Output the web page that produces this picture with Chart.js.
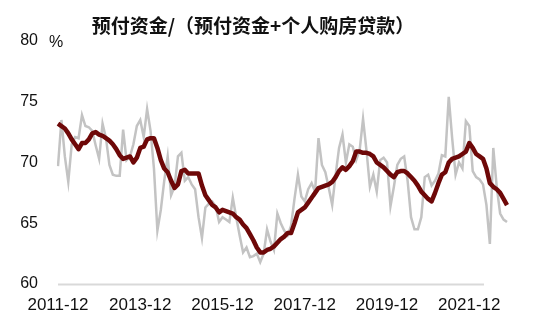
<!DOCTYPE html>
<html>
<head>
<meta charset="utf-8">
<script src="https://cdn.jsdelivr.net/npm/chart.js@4/dist/chart.umd.min.js"></script>
<style>
html,body{margin:0;padding:0;background:#fff;}
#wrap{width:550px;height:332px;position:relative;}
</style>
</head>
<body>
<div id="wrap"><canvas id="c" width="550" height="332"></canvas></div>
<script>
const titleText = '预付资金/（预付资金+个人购房贷款）';
const unitText = '%';
const startYear = 2011, startMonth = 12;
const tickLabels = ['2011-12','2013-12','2015-12','2017-12','2019-12','2021-12'];
const yTicks = [60, 65, 70, 75, 80];

const monthlyRatio = [
69.7,73.5,70.5,68.4,71.5,72.1,72.0,73.9,73.0,72.9,72.6,71.4,
70.3,73.2,72.0,69.8,69.0,68.9,68.9,72.7,70.2,70.5,71.5,73.0,
73.5,72.1,74.4,72.6,69.5,64.4,66.1,68.5,70.5,67.3,68.0,70.5,
70.8,68.5,68.8,68.2,67.8,65.5,63.8,66.3,66.6,66.8,66.4,65.1,
65.5,65.3,65.1,67.1,65.5,64.0,62.6,63.0,62.2,62.3,62.5,61.8,
62.5,64.5,63.5,62.8,65.8,65.0,64.4,64.0,64.8,67.0,69.0,67.2,
66.8,67.8,68.3,67.6,72.0,69.8,69.2,67.9,66.5,69.0,71.2,72.3,
70.0,71.5,71.3,70.2,71.0,73.6,71.0,68.0,69.0,67.6,70.2,70.4,
70.0,66.4,68.0,69.8,70.3,70.5,68.5,65.5,64.5,64.5,65.5,68.8,
69.0,68.1,68.5,69.1,70.6,70.5,75.4,72.0,69.0,70.0,69.5,73.4,
73.0,69.3,68.8,68.6,68.2,66.5,63.3,71.2,68.0,65.8,65.3,65.1
];

const smoothedRatio = [
73.2,73.0,72.8,72.4,71.9,71.5,71.1,71.6,71.6,71.9,72.4,72.5,
72.3,72.2,72.0,71.8,71.5,71.1,70.6,70.3,70.4,70.5,70.0,70.4,
71.2,71.3,71.9,72.0,72.0,71.2,70.2,69.5,69.2,68.5,67.9,68.2,
69.3,69.4,69.1,69.1,69.1,69.1,68.1,67.3,66.9,66.5,66.3,65.9,
66.1,66.0,65.9,65.8,65.5,65.3,64.9,64.6,64.1,63.6,63.0,62.6,
62.6,62.8,62.9,63.1,63.4,63.7,63.9,64.2,64.2,65.0,65.9,66.1,
66.3,66.7,67.1,67.5,67.9,68.0,68.1,68.2,68.4,68.8,69.3,69.6,
69.4,69.7,70.1,70.9,70.9,70.8,70.8,70.7,70.5,70.0,69.8,69.6,
69.3,69.0,68.8,69.2,69.3,69.3,69.1,68.8,68.5,68.1,67.6,67.3,
67.0,66.8,67.5,68.3,69.0,69.2,70.0,70.3,70.4,70.5,70.7,70.9,
71.6,71.2,70.7,70.5,70.3,69.5,68.3,68.0,67.8,67.5,67.0,66.5
];

const categories = [];
{
  let y = startYear, m = startMonth;
  for (let i = 0; i < monthlyRatio.length; i++) {
    categories.push(y + '-' + String(m).padStart(2, '0'));
    m++; if (m > 12) { m = 1; y++; }
  }
}

const FONT = "'Liberation Sans', Arial, sans-serif";

const decor = {
  id: 'decor',
  afterDraw(chart) {
    const ctx = chart.ctx;
    const a = chart.chartArea;
    ctx.save();
    ctx.strokeStyle = '#d9d9d9';
    ctx.lineWidth = 2;
    ctx.beginPath();
    ctx.moveTo(a.left, a.bottom + 0.5);
    ctx.lineTo(a.right - 23, a.bottom + 0.5);
    ctx.stroke();
    ctx.fillStyle = '#111';
    ctx.font = "bold 19px 'Noto Sans CJK SC', sans-serif";
    ctx.textAlign = 'center';
    ctx.textBaseline = 'middle';
    ctx.fillText(titleText, 253, 26);
    ctx.font = '16px ' + FONT;
    ctx.textAlign = 'center';
    ctx.fillText(unitText, 56, a.top + 2);
    ctx.restore();
  }
};

new Chart(document.getElementById('c'), {
  type: 'line',
  data: {
    labels: categories,
    datasets: [
      {
        label: 'monthly',
        data: monthlyRatio,
        borderColor: '#c3c3c3',
        borderWidth: 2.5,
        pointRadius: 0,
        tension: 0,
        order: 2
      },
      {
        label: 'smoothed',
        data: smoothedRatio,
        borderColor: '#6e0808',
        borderWidth: 4.5,
        pointRadius: 0,
        tension: 0,
        borderJoinStyle: 'round',
        order: 1
      }
    ]
  },
  options: {
    responsive: false,
    animation: false,
    devicePixelRatio: 1,
    layout: { padding: { top: 41, right: 43, left: 0, bottom: 0 } },
    plugins: { legend: { display: false }, tooltip: { enabled: false }, title: { display: false } },
    scales: {
      x: {
        type: 'category',
        offset: false,
        grid: { display: false, drawTicks: false },
        border: { display: false },
        ticks: {
          autoSkip: false,
          maxRotation: 0,
          minRotation: 0,
          padding: 11,
          color: '#111',
          font: { family: FONT, size: 17 },
          callback: function(v, i) {
            const lab = categories[i];
            return tickLabels.includes(lab) ? lab : '';
          }
        },
        afterFit(scale) { scale.height = 48; }
      },
      y: {
        min: 60, max: 80,
        grid: { display: false, drawTicks: false },
        border: { display: false },
        afterBuildTicks(scale) { scale.ticks = yTicks.map(v => ({ value: v })); },
        ticks: {
          padding: 20,
          color: '#111',
          font: { family: FONT, size: 16 }
        },
        afterFit(scale) { scale.width = 58; }
      }
    }
  },
  plugins: [decor]
});
</script>
</body>
</html>
